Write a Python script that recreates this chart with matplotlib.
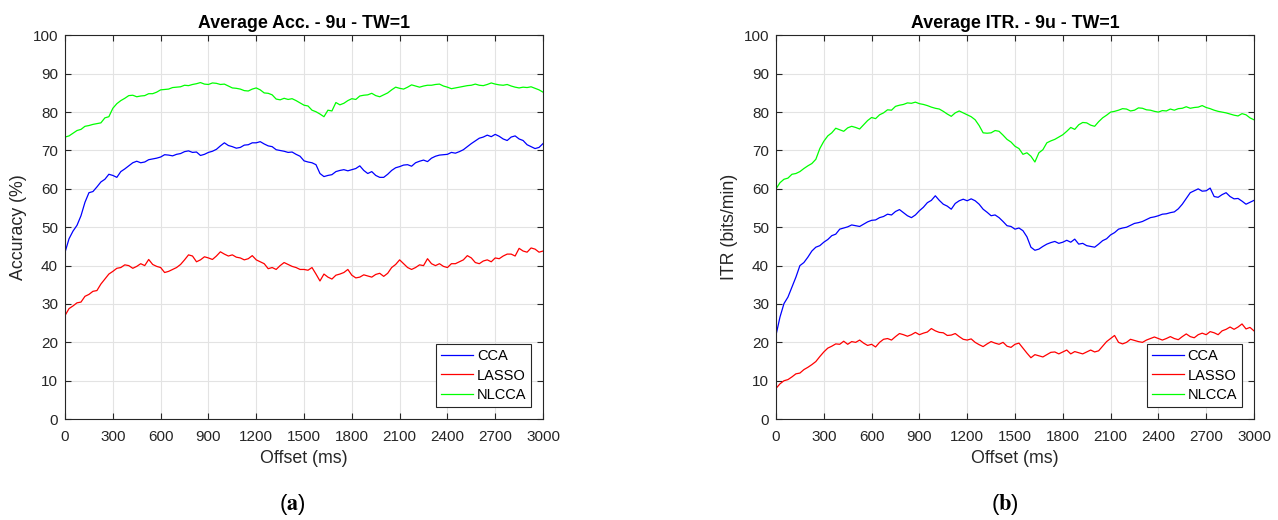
import matplotlib
matplotlib.use("Agg")
import matplotlib.pyplot as plt

plt.rcParams['font.family'] = ['Liberation Sans', 'DejaVu Sans']
plt.rcParams['mathtext.fontset'] = 'stix'

# ======================
# data (25 ms steps, one row = 300 ms)
# ======================
offset_ms = list(range(0, 3001, 25))
series_names = ['CCA', 'LASSO', 'NLCCA']
series_colors = ['#0000ff', '#ff0000', '#00ff00']

acc_cca = [43.5, 47.0, 49.0, 50.5, 53.0, 56.5, 59.0, 59.3, 60.5, 61.8, 62.5, 63.8,
           63.5, 63.0, 64.5, 65.2, 66.0, 66.8, 67.2, 66.8, 67.0, 67.6, 67.8, 68.0,
           68.3, 68.9, 68.8, 68.6, 69.0, 69.2, 69.7, 69.9, 69.5, 69.6, 68.7, 69.0,
           69.5, 69.8, 70.3, 71.2, 72.0, 71.3, 71.0, 70.6, 70.8, 71.4, 71.5, 72.0,
           72.0, 72.3, 71.7, 71.2, 71.0, 70.2, 70.0, 69.8, 69.5, 69.6, 69.0, 68.5,
           67.3, 67.0, 66.8, 66.3, 64.0, 63.2, 63.5, 63.7, 64.5, 64.8, 65.0, 64.7,
           65.0, 65.3, 66.0, 64.8, 64.0, 64.5, 63.5, 63.0, 63.0, 63.8, 64.8, 65.5,
           65.8, 66.2, 66.3, 65.9, 66.8, 67.2, 67.5, 67.1, 68.0, 68.5, 68.8, 68.9,
           69.0, 69.5, 69.3, 69.7, 70.2, 71.0, 71.8, 72.5, 73.2, 73.5, 74.0, 73.6,
           74.2, 73.7, 73.0, 72.6, 73.5, 73.8, 73.0, 72.6, 71.5, 71.0, 70.5, 70.8,
           71.8]
acc_lasso = [27.0, 28.8, 29.5, 30.3, 30.5, 32.0, 32.5, 33.3, 33.5, 35.2, 36.5, 37.8,
             38.5, 39.3, 39.5, 40.2, 40.0, 39.3, 39.8, 40.5, 40.0, 41.6, 40.3, 39.8,
             39.5, 38.2, 38.5, 39.0, 39.5, 40.3, 41.5, 42.8, 42.5, 41.0, 41.5, 42.3,
             42.0, 41.6, 42.5, 43.6, 43.0, 42.5, 42.8, 42.2, 42.0, 41.5, 41.8, 42.6,
             41.5, 41.0, 40.5, 39.2, 39.5, 39.0, 40.0, 40.8, 40.3, 39.8, 39.5, 39.0,
             39.0, 38.8, 39.5, 37.8, 36.0, 37.8, 37.0, 36.5, 37.5, 37.8, 38.2, 39.0,
             37.5, 36.8, 37.0, 37.6, 37.3, 37.0, 37.7, 38.0, 37.2, 38.0, 39.5, 40.3,
             41.5, 40.5, 39.5, 39.0, 39.5, 40.2, 40.0, 41.8, 40.5, 40.0, 40.5, 39.8,
             39.5, 40.5, 40.5, 41.0, 41.5, 42.6, 42.0, 40.8, 40.5, 41.2, 41.5, 41.0,
             42.0, 41.8, 42.5, 43.0, 43.0, 42.5, 44.5, 43.8, 43.5, 44.6, 44.3, 43.5,
             43.8]
acc_nlcca = [73.5, 73.8, 74.5, 75.2, 75.5, 76.3, 76.5, 76.8, 77.0, 77.2, 78.5, 78.8,
             81.0, 82.2, 83.0, 83.6, 84.3, 84.4, 84.0, 84.2, 84.3, 84.8, 84.8, 85.2,
             85.8, 85.9, 86.0, 86.4, 86.5, 86.6, 87.0, 86.9, 87.2, 87.4, 87.7, 87.3,
             87.2, 87.6, 87.5, 87.2, 87.3, 86.8, 86.3, 86.2, 86.0, 85.6, 85.5, 86.0,
             86.3, 85.8, 85.0, 84.9, 84.5, 83.4, 83.2, 83.6, 83.3, 83.5, 83.0, 82.4,
             81.8, 81.6, 80.5, 80.1, 79.5, 78.8, 80.5, 80.3, 82.5, 81.9, 82.3, 83.0,
             83.5, 83.3, 84.2, 84.4, 84.5, 84.9, 84.3, 84.0, 84.5, 85.0, 85.8, 86.5,
             86.2, 86.0, 86.5, 87.1, 86.8, 86.5, 86.8, 87.0, 87.0, 87.2, 87.3, 86.8,
             86.5, 86.1, 86.3, 86.5, 86.7, 86.9, 87.0, 87.3, 87.0, 86.9, 87.2, 87.6,
             87.3, 87.1, 87.0, 87.2, 86.8, 86.5, 86.3, 86.5, 86.4, 86.6, 86.2, 85.8,
             85.2]

itr_cca = [21.9, 26.6, 30.1, 31.8, 34.4, 37.0, 40.0, 40.8, 42.2, 43.8, 44.8, 45.2,
           46.1, 46.8, 47.8, 48.2, 49.5, 49.8, 50.1, 50.6, 50.4, 50.2, 50.8, 51.4,
           51.8, 51.9, 52.5, 52.8, 53.4, 53.2, 54.1, 54.6, 53.8, 53.0, 52.5, 53.2,
           54.3, 55.2, 56.4, 57.0, 58.2, 57.0, 56.0, 55.5, 54.7, 56.2, 56.9, 57.3,
           56.9, 57.4, 56.9, 56.0, 54.7, 53.9, 53.0, 53.2, 52.5, 51.5, 50.4, 50.2,
           49.5, 49.8, 49.1, 47.5, 44.8, 44.0, 44.3, 45.0, 45.6, 46.0, 46.3, 45.8,
           46.1, 46.6, 46.1, 46.9, 45.6, 45.8, 45.2, 45.0, 44.8, 45.6, 46.5, 47.0,
           48.0, 48.6, 49.5, 49.8, 50.0, 50.5, 51.0, 51.2, 51.5, 52.0, 52.5, 52.7,
           53.0, 53.4, 53.5, 53.8, 54.0, 54.8, 56.0, 57.5, 59.0, 59.5, 60.0, 59.4,
           59.5, 60.2, 58.0, 57.8, 58.5, 59.0, 58.0, 57.4, 57.5, 56.8, 56.0, 56.5,
           57.0]
itr_lasso = [8.0, 9.2, 10.0, 10.3, 11.0, 11.8, 12.0, 12.9, 13.5, 14.2, 15.0, 16.3,
             17.5, 18.5, 19.0, 19.6, 19.5, 20.3, 19.5, 20.2, 20.0, 20.6, 19.8, 19.2,
             19.5, 18.8, 20.0, 20.8, 21.0, 20.6, 21.5, 22.3, 22.0, 21.6, 22.0, 22.6,
             22.0, 22.4, 22.7, 23.6, 23.0, 22.6, 22.5, 21.8, 21.9, 22.3, 21.5, 20.8,
             20.6, 20.9, 20.0, 19.4, 18.9, 19.6, 20.2, 19.8, 19.5, 20.0, 19.0, 18.7,
             19.5, 19.8, 18.5, 17.2, 16.0, 16.8, 16.5, 16.2, 16.8, 17.4, 17.5, 17.0,
             17.5, 18.0, 17.0, 17.6, 17.3, 17.0, 17.5, 18.0, 17.5, 17.8, 19.0, 20.2,
             21.0, 21.8, 20.0, 19.6, 20.0, 20.8, 20.5, 20.2, 20.0, 20.6, 21.0, 21.4,
             21.0, 20.6, 21.0, 21.5, 21.0, 20.7, 21.5, 22.2, 21.5, 21.2, 22.0, 22.4,
             22.0, 22.8, 22.5, 22.0, 23.0, 23.4, 24.0, 23.4, 24.0, 24.8, 23.5, 23.9,
             23.0]
itr_nlcca = [60.0, 61.6, 62.5, 62.8, 63.8, 64.0, 64.5, 65.3, 66.0, 66.6, 67.7, 70.5,
             72.4, 73.8, 74.6, 75.8, 75.4, 75.0, 75.9, 76.3, 76.0, 75.6, 76.7, 77.8,
             78.6, 78.3, 79.3, 79.8, 80.6, 80.5, 81.5, 81.8, 82.0, 82.4, 82.3, 82.6,
             82.2, 82.0, 81.7, 81.3, 81.0, 80.8, 80.2, 79.5, 78.9, 79.8, 80.3, 79.8,
             79.3, 78.8, 78.0, 76.5, 74.6, 74.5, 74.6, 75.2, 75.0, 74.0, 72.9, 72.2,
             71.1, 70.5, 69.0, 69.4, 68.5, 67.0, 69.4, 70.2, 72.0, 72.5, 72.9, 73.5,
             74.1, 75.0, 76.0, 75.5, 76.7, 77.3, 77.2, 76.6, 76.3, 77.5, 78.5, 79.2,
             80.0, 80.2, 80.5, 80.9, 80.8, 80.3, 80.5, 81.1, 81.0, 80.6, 80.5, 80.2,
             80.0, 80.4, 80.3, 80.8, 80.5, 80.9, 81.0, 81.4, 81.0, 81.2, 81.3, 81.7,
             81.2, 80.9, 80.5, 80.2, 80.0, 79.8, 79.5, 79.2, 79.0, 79.6, 79.3, 78.5,
             78.0]

panels = [
    ('Average Acc. - 9u - TW=1', 'Accuracy (%)', [acc_cca, acc_lasso, acc_nlcca], 'a'),
    ('Average ITR. - 9u - TW=1', 'ITR (bits/min)', [itr_cca, itr_lasso, itr_nlcca], 'b'),
]

# ======================
# figure (MATLAB-like look)
# ======================
fig = plt.figure(figsize=(12.78, 5.2), dpi=100)
axes_pos = [[0.0509, 0.194, 0.374, 0.738], [0.6072, 0.194, 0.374, 0.738]]
caption_x = [0.229, 0.786]
edge = '#262626'

for i, (title, ylabel, data, caption) in enumerate(panels):
    ax = fig.add_axes(axes_pos[i])
    for name, color, values in zip(series_names, series_colors, data):
        ax.plot(offset_ms, values, color=color, lw=0.9, label=name)

    ax.set_xlim(0, 3000)
    ax.set_ylim(0, 100)
    ax.set_xticks(range(0, 3001, 300))
    ax.set_yticks(range(0, 101, 10))
    ax.grid(True, color='#e3e3e3', lw=0.8)
    ax.set_axisbelow(True)
    ax.tick_params(direction='in', length=4, width=0.8, colors=edge,
                   labelsize=11, top=True, right=True)
    ax.tick_params(axis='x', pad=8)
    ax.tick_params(axis='y', pad=5)
    for sp in ax.spines.values():
        sp.set_color(edge)
        sp.set_linewidth(0.8)

    ax.set_title(title, fontsize=12.8, fontweight='bold', pad=5)
    ax.set_xlabel('Offset (ms)', fontsize=12.8, color=edge, labelpad=4)
    ax.set_ylabel(ylabel, fontsize=12.8, color=edge, labelpad=4)

    leg = ax.legend(loc='lower right', fontsize=10.5, fancybox=False,
                    framealpha=1, edgecolor=edge, handlelength=2.2,
                    handletextpad=0.25, borderpad=0.35, labelspacing=0.4,
                    borderaxespad=0.8)
    leg.get_frame().set_linewidth(0.8)

    fig.text(caption_x[i], 0.029, r'($\mathbf{' + caption + r'}$)',
             ha='center', va='center', fontsize=16)

fig.savefig('out.png', dpi=100)
